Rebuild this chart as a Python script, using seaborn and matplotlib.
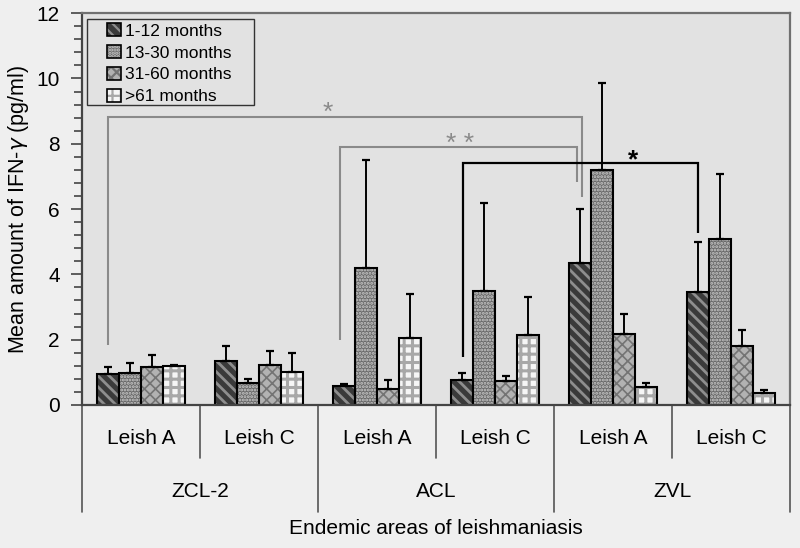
import matplotlib
matplotlib.use("Agg")
import matplotlib.pyplot as plt
import seaborn as sns
import pandas as pd
import numpy as np
from matplotlib.patches import Patch, Rectangle

sns.set_theme(style="white")
plt.rcParams['font.family'] = ['Liberation Sans', 'DejaVu Sans']
plt.rcParams['hatch.linewidth'] = 1.6
plt.rcParams['text.color'] = 'black'
plt.rcParams['axes.labelcolor'] = 'black'
plt.rcParams['xtick.labelcolor'] = 'black'
plt.rcParams['ytick.labelcolor'] = 'black'

# chart values
areas = ['ZCL-2', 'ACL', 'ZVL']
strains = ['Leish A', 'Leish C']
ages = ['1-12 months', '13-30 months', '31-60 months', '>61 months']

# mean per (area, strain), one list per age group
mean_1_12 = [0.95, 1.35, 0.58, 0.78, 4.35, 3.45]
mean_13_30 = [0.97, 0.68, 4.2, 3.5, 7.2, 5.08]
mean_31_60 = [1.15, 1.22, 0.5, 0.72, 2.17, 1.8]
mean_61 = [1.2, 1.02, 2.05, 2.15, 0.54, 0.38]

# upper end of the error bars
err_1_12 = [1.15, 1.8, 0.65, 0.98, 6.0, 5.0]
err_13_30 = [1.3, 0.8, 7.5, 6.2, 9.85, 7.08]
err_31_60 = [1.52, 1.65, 0.75, 0.9, 2.8, 2.3]
err_61 = [1.22, 1.6, 3.4, 3.3, 0.68, 0.45]

# significance brackets: x left, x right, top, left foot, right foot,
# label, label x, label baseline, colour
brackets = [
    (-0.28, 3.735, 8.82, 1.84, 6.38, '*', 1.585, 8.74, '#8a8a8a'),
    (1.686, 3.692, 7.91, 1.99, 6.83, '* *', 2.70, 7.78, '#8a8a8a'),
    (2.73, 4.723, 7.42, 1.48, 5.26, '*', 4.17, 7.28, 'black'),
]

keys = [f'{a} {s}' for a in areas for s in strains]
means = [mean_1_12, mean_13_30, mean_31_60, mean_61]
errs = [err_1_12, err_13_30, err_31_60, err_61]
df = pd.DataFrame({
    'group': np.tile(keys, len(ages)),
    'age': np.repeat(ages, len(keys)),
    'value': np.concatenate(means),
})

faces = ['#3a3a3a', '#6a6a6a', '#b2b2b2', '#f6f6f6']
hatch_cols = ['#8e8e8e', '#c8c8c8', '#747474', '#a8a8a8']
hatches = ['\\\\\\', '.....', 'xxx', '++']
hatch_lw = [2.0, 1.4, 1.2, 2.2]

fig = plt.figure(figsize=(8, 5.48), dpi=100, facecolor='#efefef')
ax = fig.add_axes([0.1025, 0.261, 0.885, 0.715])
ax.set_facecolor('#e2e2e2')

sns.barplot(data=df, x='group', y='value', hue='age', order=keys,
            hue_order=ages, width=0.74, palette=faces, edgecolor='black',
            linewidth=1.5, errorbar=None, legend=False, ax=ax)


def style_patch(p, i):
    p.set_hatch(hatches[i])
    p._hatch_color = matplotlib.colors.to_rgba(hatch_cols[i])
    if hasattr(p, 'set_hatch_linewidth'):
        p.set_hatch_linewidth(hatch_lw[i])


# bars come out hue by hue, in order
bar_sets = list(ax.containers)
for i, cont in enumerate(bar_sets):
    xs = []
    for bar in cont:
        style_patch(bar, i)
        xs.append(bar.get_x() + bar.get_width() / 2)
    ax.errorbar(xs, means[i], yerr=[np.zeros(len(keys)),
                np.array(errs[i]) - np.array(means[i])],
                fmt='none', ecolor='black', elinewidth=1.4, capsize=3,
                capthick=1.6, zorder=1)

for x1, x2, top, f1, f2, lab, lx, ly, col in brackets:
    ax.plot([x1, x1, x2, x2], [f1, top, top, f2], color=col,
            lw=1.6 if col == 'black' else 1.5,
            solid_joinstyle='miter', solid_capstyle='butt', zorder=5)
    ax.text(lx, ly, lab, ha='center', va='baseline', color=col, fontsize=19,
            fontweight='bold' if col == 'black' else 'normal')

ax.set_ylim(0, 12)
ax.set_xlim(-0.5, len(keys) - 0.5)
ax.set_yticks(np.arange(0, 13, 2))
ax.set_yticks(np.arange(0, 12.01, 0.4), minor=True)
ax.tick_params(axis='y', which='major', left=True, length=8, width=1.2,
               color='#444444', labelsize=15, pad=8)
ax.tick_params(axis='y', which='minor', left=True, length=6, width=1.2,
               color='#444444')
ax.set_ylabel('Mean amount of IFN-$\\gamma$ (pg/ml)', fontsize=15.5,
              labelpad=4)

# two-level category axis
ax.set_xticks(range(len(keys)))
ax.set_xticklabels([s for a in areas for s in strains], fontsize=15)
ax.tick_params(axis='x', length=0, pad=17)
ax.set_xlabel('')
trans = ax.get_xaxis_transform()
for k in range(len(keys) + 1):
    bottom = -0.273 if k % 2 == 0 else -0.135
    ax.plot([k - 0.5, k - 0.5], [0, bottom], color='#555555', lw=1.2,
            transform=trans, clip_on=False)
for a, name in enumerate(areas):
    ax.text(2 * a + 0.5, -0.222, name, transform=trans, ha='center',
            va='center', fontsize=15)
ax.text(0.5, -0.314, 'Endemic areas of leishmaniasis', transform=ax.transAxes,
        ha='center', va='center', fontsize=15)

for sp in ax.spines.values():
    sp.set_color('#707070')
    sp.set_linewidth(1.6)
ax.spines['left'].set_color('#444444')
ax.spines['bottom'].set_color('#444444')

# legend: handles without frame, plus a plain box
handles = [Patch(facecolor=faces[i], edgecolor='black', linewidth=1.2)
           for i in range(len(ages))]
for i, h in enumerate(handles):
    style_patch(h, i)
ax.legend(handles, ages, loc='upper left', bbox_to_anchor=(0.036, 0.974),
          fontsize=12.5, frameon=False, handlelength=0.75, handleheight=0.75,
          handletextpad=0.25, labelspacing=0.37, borderpad=0,
          borderaxespad=0)
ax.add_patch(Rectangle((0.007, 0.765), 0.236, 0.22, transform=ax.transAxes,
                       fill=False, edgecolor='#333333', linewidth=1.0,
                       zorder=6))

fig.savefig('out.png', dpi=100, facecolor=fig.get_facecolor())
